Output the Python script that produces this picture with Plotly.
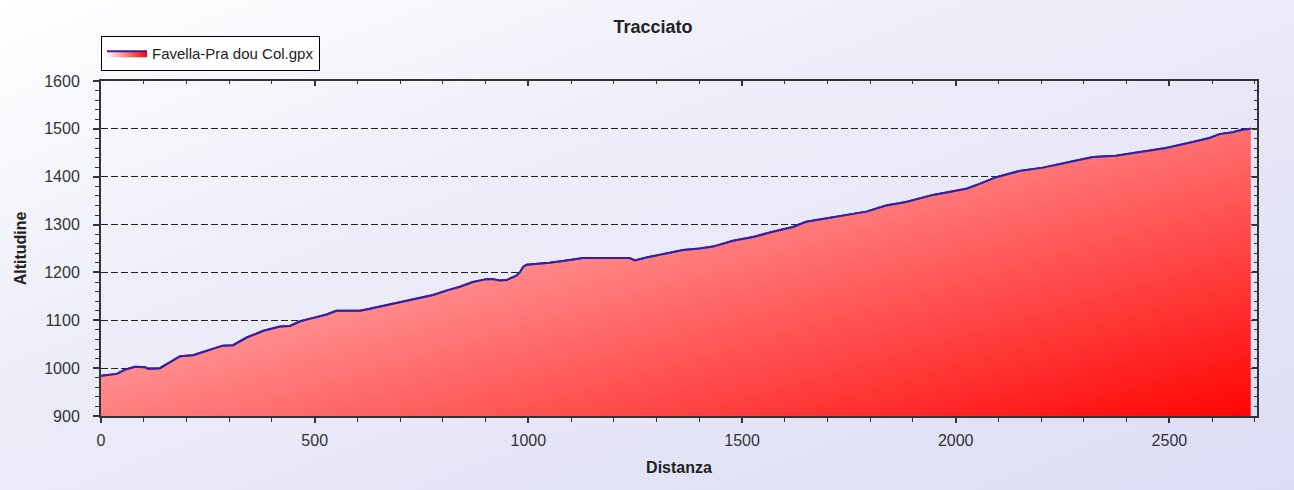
import base64
import plotly.graph_objects as go

# ---- data ----
distance = [0, 37, 56, 80, 103, 110, 138, 161, 185, 215, 262, 285, 309, 341, 380, 419,
            442, 466, 497, 528, 551, 606, 629, 684, 730, 777, 808, 840, 870, 902, 917,
            933, 949, 972, 980, 988, 996, 1050, 1089, 1128, 1237, 1249, 1276, 1323,
            1362, 1401, 1432, 1479, 1526, 1572, 1619, 1650, 1697, 1744, 1791, 1837,
            1884, 1947, 2025, 2056, 2095, 2149, 2204, 2258, 2321, 2375, 2430, 2492,
            2547, 2594, 2617, 2648, 2671, 2690]
altitude = [984, 988, 997, 1003, 1002, 999, 1000, 1012, 1025, 1027, 1040, 1047, 1048,
            1064, 1078, 1087, 1088, 1098, 1105, 1112, 1120, 1120, 1124, 1135, 1144, 1153,
            1162, 1170, 1180, 1186, 1186, 1183, 1184, 1193, 1200, 1212, 1216, 1220, 1225,
            1230, 1230, 1225, 1231, 1240, 1247, 1250, 1254, 1266, 1274, 1285, 1295, 1306,
            1313, 1321, 1327, 1340, 1347, 1362, 1375, 1385, 1399, 1412, 1419, 1429, 1441,
            1444, 1452, 1460, 1471, 1481, 1489, 1493, 1498, 1500]
series_name = "Favella-Pra dou Col.gpx"
chart_title = "Tracciato"
x_title = "Distanza"
y_title = "Altitudine"
x_range = [0, 2705]
y_range = [900, 1600]

FONT = "Liberation Sans, Arial, sans-serif"
W, H = 1294, 490
ML, MR, MT, MB = 101, 37, 81, 74
PW, PH = W - ML - MR, H - MT - MB

fig = go.Figure()

# base fill: horizontal gradient (opaque)
fig.add_trace(go.Scatter(
    x=distance, y=altitude, mode="lines", name=series_name,
    line=dict(color="#3320a6", width=2),
    fill="tozeroy",
    fillgradient=dict(type="horizontal", start=x_range[0], stop=2700,
                      colorscale=[[0, "#fff4f4"], [1, "#ff0000"]]),
    hoverinfo="skip", showlegend=True,
))
# overlay fill: vertical gradient at 50% -> diagonal blend
fig.add_trace(go.Scatter(
    x=distance, y=altitude, mode="lines",
    line=dict(width=0),
    fill="tozeroy",
    fillgradient=dict(type="vertical", start=900, stop=1600,
                      colorscale=[[0, "rgba(255,8,8,0.5)"], [1, "rgba(255,255,255,0.5)"]]),
    hoverinfo="skip", showlegend=False,
))
# profile line on top
fig.add_trace(go.Scatter(
    x=distance, y=altitude, mode="lines",
    line=dict(color="#3320a6", width=2),
    hoverinfo="skip", showlegend=False,
))
# invisible trace for the mirrored (top/right) tick axes
fig.add_trace(go.Scatter(
    x=distance, y=altitude, mode="lines", xaxis="x2", yaxis="y2",
    line=dict(width=0), opacity=0, hoverinfo="skip", showlegend=False,
))

svg = (f'<svg xmlns="http://www.w3.org/2000/svg" width="{W}" height="{H}" preserveAspectRatio="none">'
       '<defs><linearGradient id="g" x1="0" y1="0" x2="1" y2="1">'
       '<stop offset="0" stop-color="#ffffff"/>'
       '<stop offset="0.35" stop-color="#eeeef9"/>'
       '<stop offset="1" stop-color="#dcdcf5"/>'
       '</linearGradient></defs>'
       f'<rect width="{W}" height="{H}" fill="url(#g)"/></svg>')
src = "data:image/svg+xml;base64," + base64.b64encode(svg.encode()).decode()

axis_col = "#333333"
tickfont = dict(family=FONT, size=16, color="#333333")
titlefont = dict(family=FONT, size=16, color="#222222")

fig.update_layout(
    width=W, height=H,
    margin=dict(l=ML, r=MR, t=MT, b=MB, autoexpand=False),
    paper_bgcolor="#eeeef9",
    plot_bgcolor="#fdfde6",
    title=dict(text=f"<b>{chart_title}</b>", x=653 / W, xref="container", xanchor="center",
               y=1 - 27 / H, yref="container", yanchor="middle",
               font=dict(family=FONT, size=18, color="#222222")),
    showlegend=True,
    legend=dict(x=0, xanchor="left", y=1 + 10 / PH, yanchor="bottom",
                bgcolor="#ffffff", bordercolor="#000000", borderwidth=1,
                font=dict(family=FONT, size=15, color="#222222"),
                itemwidth=40, tracegroupgap=0),
    images=[dict(source=src, xref="paper", yref="paper",
                 x=-ML / PW, y=1 + MT / PH, sizex=W / PW, sizey=H / PH,
                 xanchor="left", yanchor="top", sizing="stretch", layer="below")],
    xaxis=dict(range=x_range, autorange=False, tick0=0, dtick=500,
               showgrid=False, zeroline=False, automargin=False,
               showline=True, linecolor=axis_col, linewidth=2, mirror=True,
               ticks="outside", ticklen=5, tickwidth=1.5, tickcolor=axis_col,
               minor=dict(dtick=100, ticks="outside", ticklen=4, tickwidth=1, tickcolor=axis_col, showgrid=False),
               tickfont=tickfont, ticklabelstandoff=4,
               title=dict(text=f"<b>{x_title}</b>", font=titlefont, standoff=14)),
    yaxis=dict(range=y_range, autorange=False, tick0=900, dtick=100,
               showgrid=True, gridcolor="#222222", gridwidth=1, griddash="7px,3px",
               zeroline=False, automargin=False,
               showline=True, linecolor=axis_col, linewidth=2, mirror=True,
               ticks="outside", ticklen=6, tickwidth=1.5, tickcolor=axis_col,
               minor=dict(dtick=20, ticks="outside", ticklen=4, tickwidth=1, tickcolor=axis_col, showgrid=False),
               tickfont=tickfont, ticklabelstandoff=10,
               title=dict(text=f"<b>{y_title}</b>", font=titlefont, standoff=14)),
    xaxis2=dict(overlaying="x", side="top", anchor="y", range=x_range, autorange=False,
                tick0=0, dtick=500, showgrid=False, zeroline=False, showline=False,
                showticklabels=False, ticks="inside", ticklen=5, tickwidth=1.5, tickcolor=axis_col,
                minor=dict(dtick=100, ticks="inside", ticklen=3, tickwidth=1, tickcolor=axis_col)),
    yaxis2=dict(overlaying="y", side="right", anchor="x", range=y_range, autorange=False,
                tick0=900, dtick=100, showgrid=False, zeroline=False, showline=False,
                showticklabels=False, ticks="inside", ticklen=5, tickwidth=1.5, tickcolor=axis_col,
                minor=dict(dtick=20, ticks="inside", ticklen=3, tickwidth=1, tickcolor=axis_col)),
)

fig.write_html("out.html", config={"displayModeBar": False},
               post_script="document.body.style.margin='0';")
